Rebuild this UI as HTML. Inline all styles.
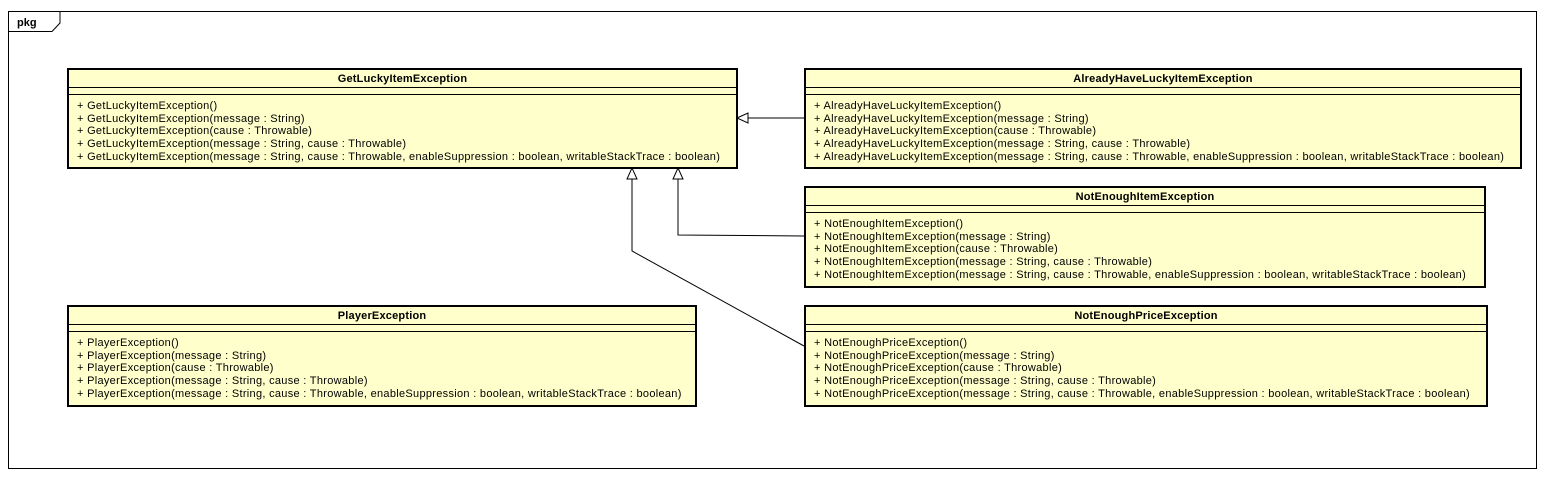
<!DOCTYPE html>
<html><head><meta charset="utf-8"><style>
body{margin:0;background:#fff;width:1552px;height:490px;overflow:hidden;position:relative;font-family:"Liberation Sans",sans-serif;}
.frame{position:absolute;left:8px;top:11px;width:1527px;height:456px;border:1px solid #000;}
.box{position:absolute;background:#ffffcc;border:2px solid #000;box-sizing:border-box;font-size:11px;letter-spacing:0.3px;color:#000;}
.hd{height:17px;line-height:18px;text-align:center;font-weight:bold;border-bottom:1px solid #000;letter-spacing:0.2px;}
.at{height:6px;border-bottom:1px solid #000;}
.ops{padding:5px 0 0 8px;line-height:12.7px;white-space:nowrap;}
svg{position:absolute;left:0;top:0;}
</style></head><body>
<div class="frame"></div>
<svg width="1552" height="490">
<path d="M8.5 31.5 H52 L60 23 V11" fill="none" stroke="#000"/>
<text x="17" y="26" font-family="Liberation Sans, sans-serif" font-size="11" font-weight="bold">pkg</text>
<g stroke="#000" fill="none">
<line x1="804" y1="118" x2="748" y2="118"/>
<polygon points="737,118 748,113 748,123" fill="#fff"/>
<polyline points="804,236 678,235 678,179"/>
<polygon points="678,168 673,179 683,179" fill="#fff"/>
<polyline points="804,346 632,251 632,179"/>
<polygon points="632,168 627,179 637,179" fill="#fff"/>
</g>
</svg>
<div class="box" style="left:67px;top:68px;width:671px;height:101px"><div class="hd">GetLuckyItemException</div><div class="at"></div><div class="ops">+ GetLuckyItemException()<br>+ GetLuckyItemException(message : String)<br>+ GetLuckyItemException(cause : Throwable)<br>+ GetLuckyItemException(message : String, cause : Throwable)<br>+ GetLuckyItemException(message : String, cause : Throwable, enableSuppression : boolean, writableStackTrace : boolean)</div></div>
<div class="box" style="left:804px;top:68px;width:718px;height:101px"><div class="hd">AlreadyHaveLuckyItemException</div><div class="at"></div><div class="ops">+ AlreadyHaveLuckyItemException()<br>+ AlreadyHaveLuckyItemException(message : String)<br>+ AlreadyHaveLuckyItemException(cause : Throwable)<br>+ AlreadyHaveLuckyItemException(message : String, cause : Throwable)<br>+ AlreadyHaveLuckyItemException(message : String, cause : Throwable, enableSuppression : boolean, writableStackTrace : boolean)</div></div>
<div class="box" style="left:804px;top:186px;width:682px;height:102px"><div class="hd">NotEnoughItemException</div><div class="at"></div><div class="ops">+ NotEnoughItemException()<br>+ NotEnoughItemException(message : String)<br>+ NotEnoughItemException(cause : Throwable)<br>+ NotEnoughItemException(message : String, cause : Throwable)<br>+ NotEnoughItemException(message : String, cause : Throwable, enableSuppression : boolean, writableStackTrace : boolean)</div></div>
<div class="box" style="left:67px;top:305px;width:630px;height:102px"><div class="hd">PlayerException</div><div class="at"></div><div class="ops">+ PlayerException()<br>+ PlayerException(message : String)<br>+ PlayerException(cause : Throwable)<br>+ PlayerException(message : String, cause : Throwable)<br>+ PlayerException(message : String, cause : Throwable, enableSuppression : boolean, writableStackTrace : boolean)</div></div>
<div class="box" style="left:804px;top:305px;width:684px;height:102px"><div class="hd">NotEnoughPriceException</div><div class="at"></div><div class="ops">+ NotEnoughPriceException()<br>+ NotEnoughPriceException(message : String)<br>+ NotEnoughPriceException(cause : Throwable)<br>+ NotEnoughPriceException(message : String, cause : Throwable)<br>+ NotEnoughPriceException(message : String, cause : Throwable, enableSuppression : boolean, writableStackTrace : boolean)</div></div>
</body></html>
